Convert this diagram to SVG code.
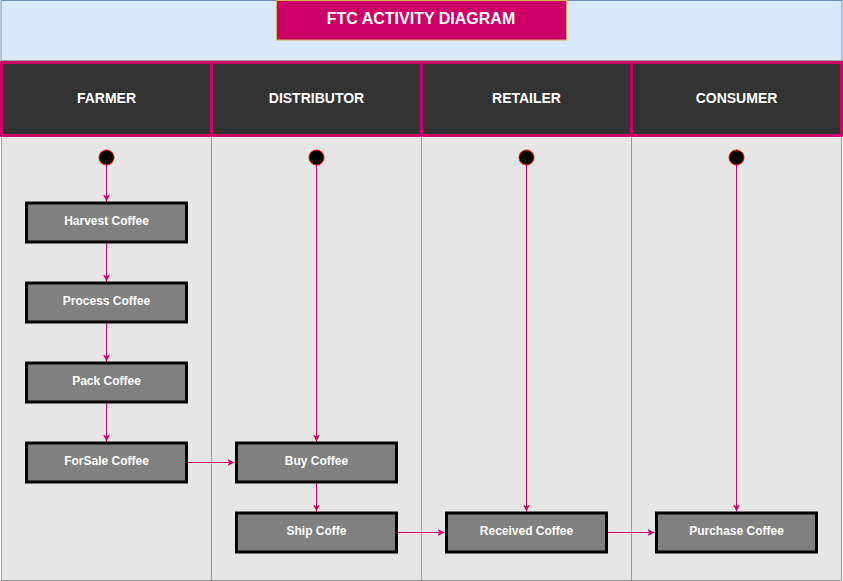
<svg xmlns="http://www.w3.org/2000/svg" width="843" height="581" viewBox="0 0 843 581">
<defs>
<style>
.lane{fill:#e6e6e6;stroke:#999999;stroke-width:1}
.hdr{fill:#333333;stroke:#cc0066;stroke-width:3}
.hdrt{fill:#ffffff;font-family:"Liberation Sans",Arial,sans-serif;font-weight:bold;font-size:14px;text-anchor:middle}
.box{fill:#808080;stroke:#000000;stroke-width:3}
.boxt{fill:#ffffff;font-family:"Liberation Sans",Arial,sans-serif;font-weight:bold;font-size:12px;text-anchor:middle}
.start{fill:#000000;stroke:#ff0000;stroke-width:1}
.conn{fill:none;stroke:#cc0066;stroke-width:1;marker-end:url(#arr)}
</style>
<marker id="arr" viewBox="0 0 10 10" refX="10" refY="5" markerWidth="7" markerHeight="7" markerUnits="userSpaceOnUse" orient="auto">
<path d="M0,0 L10,5 L0,10 L2.5,5 Z" fill="#cc0066"/>
</marker>
</defs>
<g id="pool">
<rect x="1" y="0.5" width="841" height="60" fill="#dae8fc" stroke="#6c8ebf" stroke-width="1"/>
<line x1="1" y1="60.5" x2="842" y2="60.5" stroke="#999999" stroke-width="1"/>
</g>
<g id="title">
<rect x="276.5" y="0.5" width="290" height="39.5" fill="#cc0066" stroke="#d6b656" stroke-width="1"/>
<text x="421" y="24" fill="#ffffff" font-family="Liberation Sans, Arial, sans-serif" font-weight="bold" font-size="16" text-anchor="middle">FTC ACTIVITY DIAGRAM</text>
</g>
<g id="lanes">
<rect class="lane" x="1.5" y="135.5" width="210" height="445"/>
<rect class="lane" x="211.5" y="135.5" width="210" height="445"/>
<rect class="lane" x="421.5" y="135.5" width="210" height="445"/>
<rect class="lane" x="631.5" y="135.5" width="210" height="445"/>
</g>
<g id="lane-farmer">
<rect class="hdr" x="1.5" y="62.5" width="210" height="73"/>
<text class="hdrt" x="106.5" y="103">FARMER</text>
</g>
<g id="lane-distributor">
<rect class="hdr" x="211.5" y="62.5" width="210" height="73"/>
<text class="hdrt" x="316.5" y="103">DISTRIBUTOR</text>
</g>
<g id="lane-retailer">
<rect class="hdr" x="421.5" y="62.5" width="210" height="73"/>
<text class="hdrt" x="526.5" y="103">RETAILER</text>
</g>
<g id="lane-consumer">
<rect class="hdr" x="631.5" y="62.5" width="210" height="73"/>
<text class="hdrt" x="736.5" y="103">CONSUMER</text>
</g>
<g id="start-farmer"><circle class="start" cx="106.5" cy="157.5" r="7.5"/></g>
<g id="start-distributor"><circle class="start" cx="316.5" cy="157.5" r="7.5"/></g>
<g id="start-retailer"><circle class="start" cx="526.5" cy="157.5" r="7.5"/></g>
<g id="start-consumer"><circle class="start" cx="736.5" cy="157.5" r="7.5"/></g>
<g id="connectors">
<path class="conn" d="M106.5,165 L106.5,201.5"/>
<path class="conn" d="M106.5,243.5 L106.5,281.5"/>
<path class="conn" d="M106.5,323.5 L106.5,361.5"/>
<path class="conn" d="M106.5,403.5 L106.5,441.5"/>
<path class="conn" d="M187.5,462.5 L234.5,462.5"/>
<path class="conn" d="M316.5,165 L316.5,441.5"/>
<path class="conn" d="M316.5,483.5 L316.5,511.5"/>
<path class="conn" d="M397.5,532.5 L444.5,532.5"/>
<path class="conn" d="M526.5,165 L526.5,511.5"/>
<path class="conn" d="M607.5,532.5 L654.5,532.5"/>
<path class="conn" d="M736.5,165 L736.5,511.5"/>
</g>
<g id="harvest">
<rect class="box" x="26.5" y="203" width="160" height="39"/>
<text class="boxt" x="106.5" y="225">Harvest Coffee</text>
</g>
<g id="process">
<rect class="box" x="26.5" y="283" width="160" height="39"/>
<text class="boxt" x="106.5" y="305">Process Coffee</text>
</g>
<g id="pack">
<rect class="box" x="26.5" y="363" width="160" height="39"/>
<text class="boxt" x="106.5" y="385">Pack Coffee</text>
</g>
<g id="forsale">
<rect class="box" x="26.5" y="443" width="160" height="39"/>
<text class="boxt" x="106.5" y="465">ForSale Coffee</text>
</g>
<g id="buy">
<rect class="box" x="236.5" y="443" width="160" height="39"/>
<text class="boxt" x="316.5" y="465">Buy Coffee</text>
</g>
<g id="ship">
<rect class="box" x="236.5" y="513" width="160" height="39"/>
<text class="boxt" x="316.5" y="535">Ship Coffe</text>
</g>
<g id="received">
<rect class="box" x="446.5" y="513" width="160" height="39"/>
<text class="boxt" x="526.5" y="535">Received Coffee</text>
</g>
<g id="purchase">
<rect class="box" x="656.5" y="513" width="160" height="39"/>
<text class="boxt" x="736.5" y="535">Purchase Coffee</text>
</g>
</svg>
